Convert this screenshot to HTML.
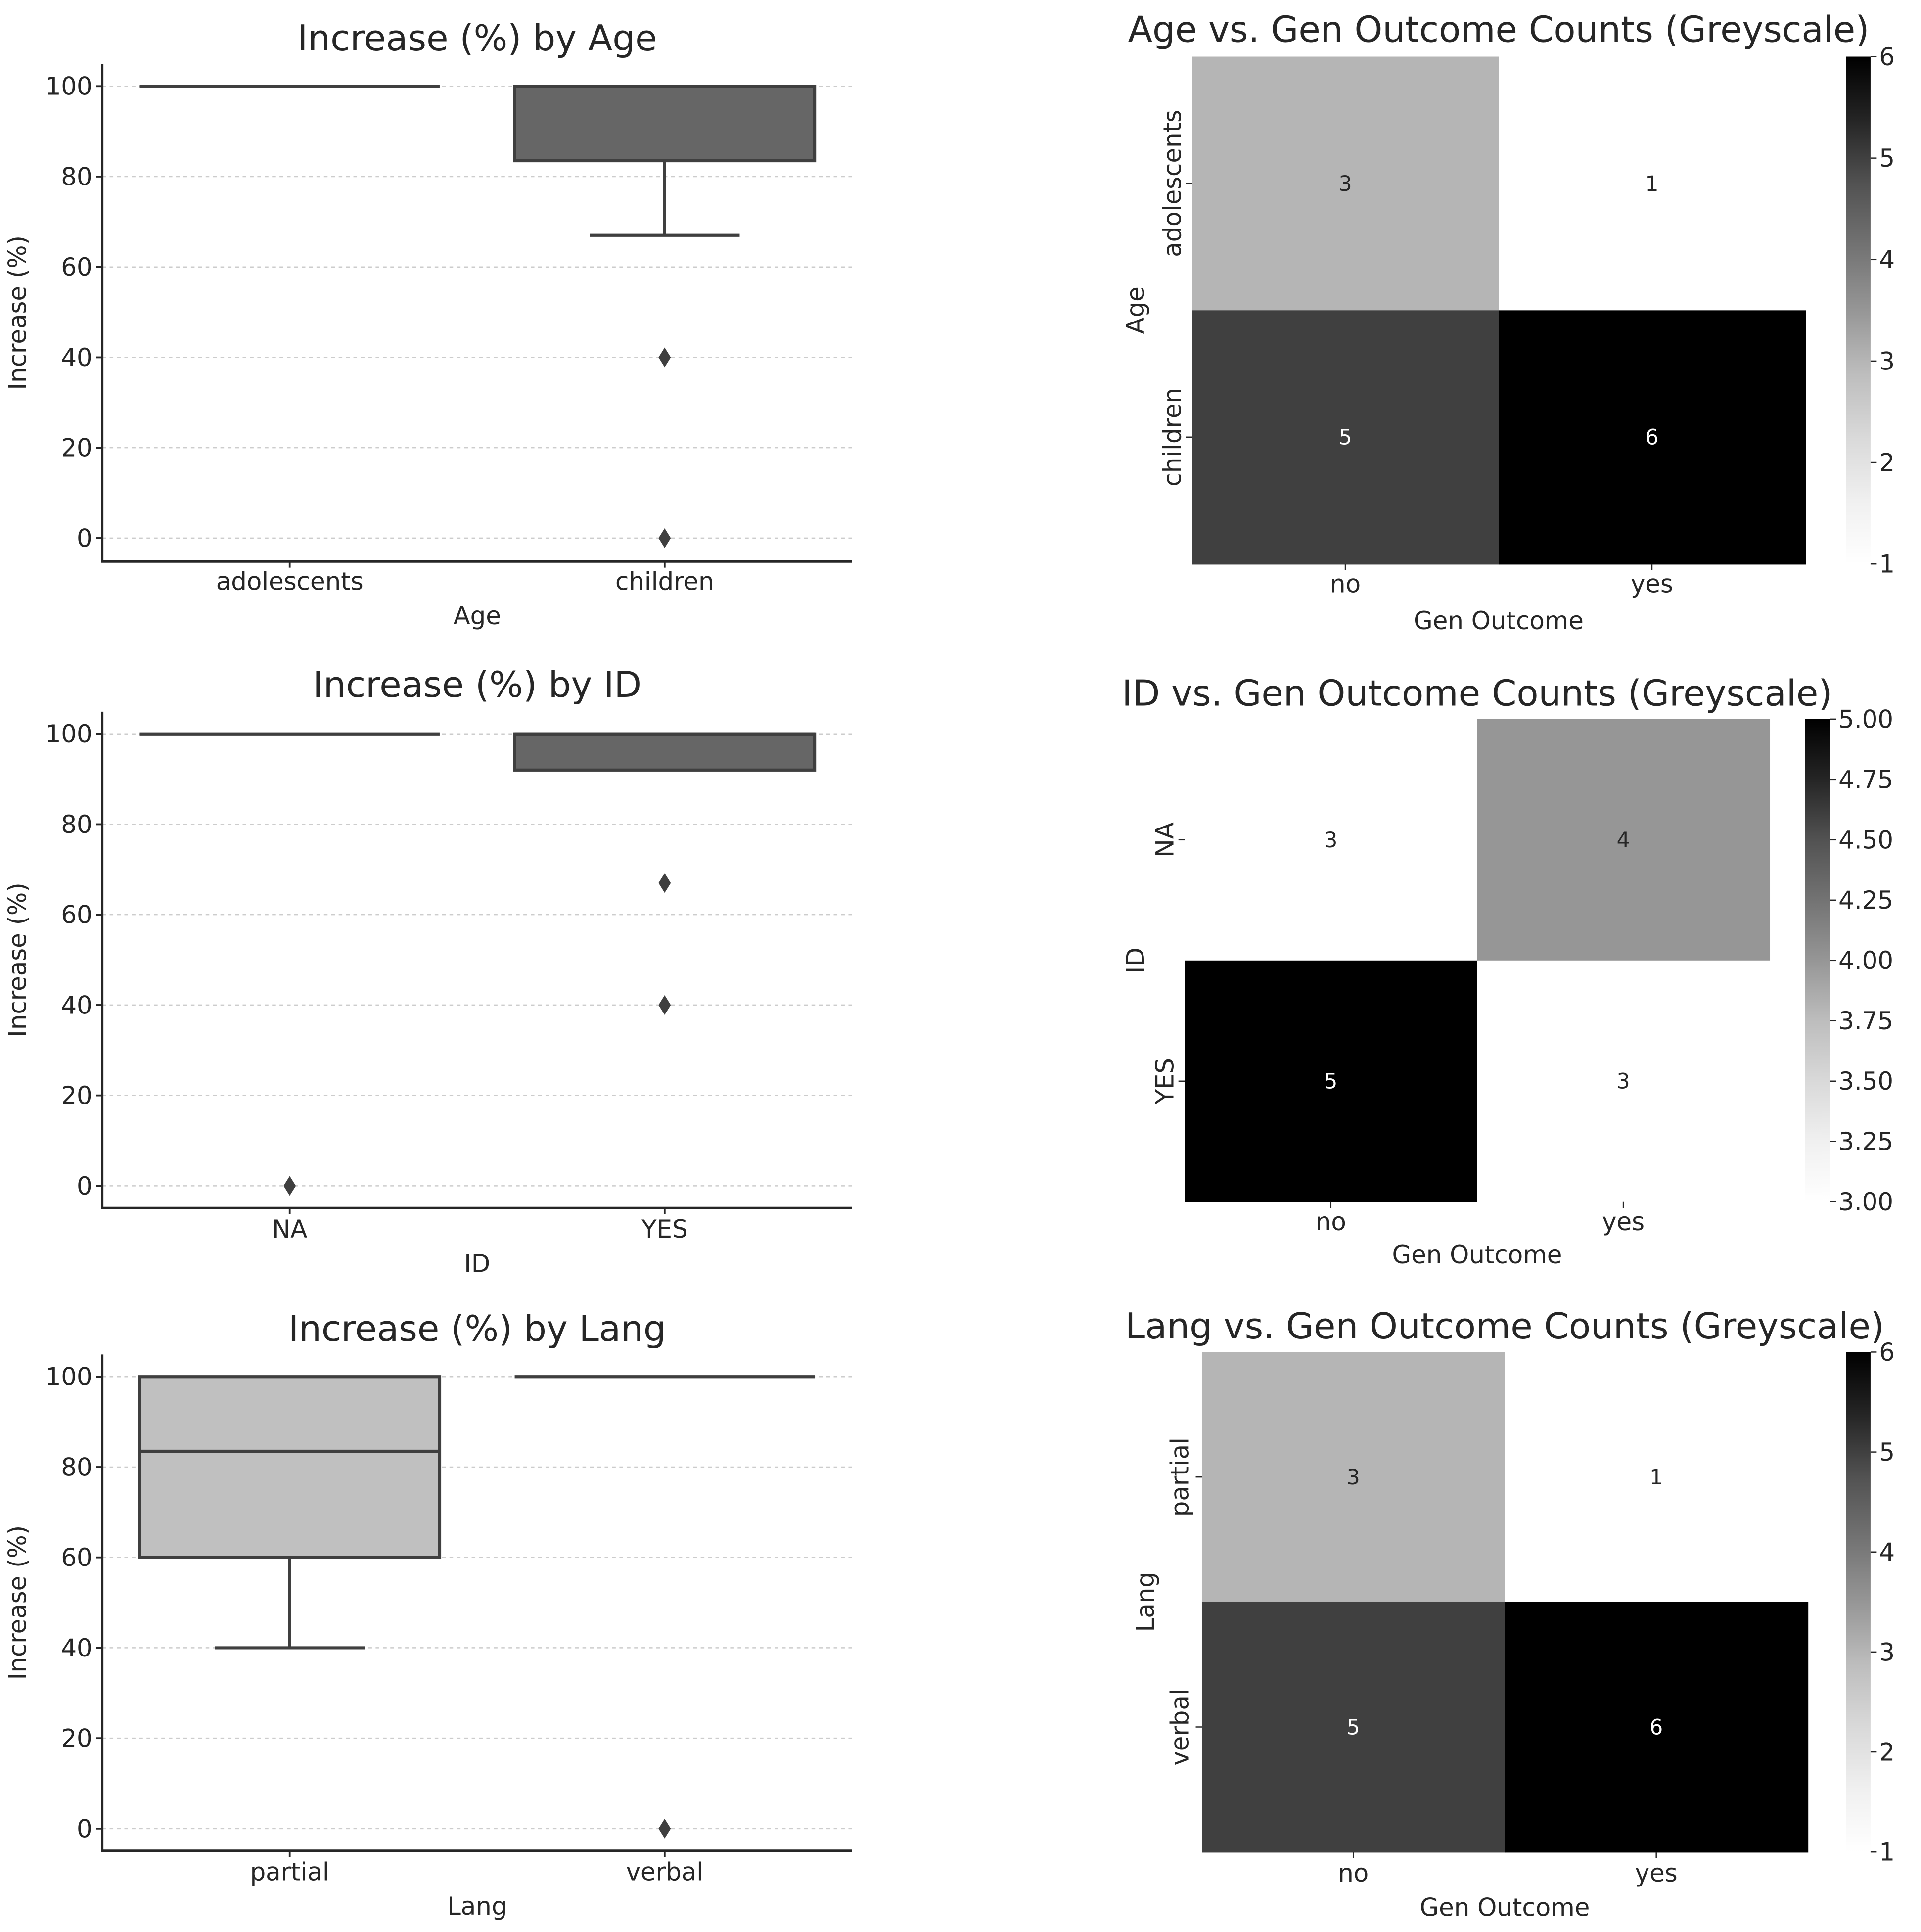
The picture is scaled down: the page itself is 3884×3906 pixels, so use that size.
<!DOCTYPE html>
<html><head><meta charset="utf-8"><style>
html,body{margin:0;padding:0;background:#fff}
svg{display:block}
text{font-family:"DejaVu Sans","Liberation Sans",sans-serif;fill:#262626}
</style></head><body>
<svg id="root" xmlns="http://www.w3.org/2000/svg" width="3884" height="3906" viewBox="0 0 1560 1569" preserveAspectRatio="none"></svg>
<script>
// ---- Box plot data ----
const boxTitles = ["Increase (%) by Age","Increase (%) by ID","Increase (%) by Lang"];
const boxXLabels = ["Age","ID","Lang"];
const boxCats = [["adolescents","children"],["NA","YES"],["partial","verbal"]];
// [q1, median, q3, whiskerLow, whiskerHigh] per category
const boxStatsAge = [[100,100,100,100,100],[83.5,100,100,67,100]];
const boxStatsID = [[100,100,100,100,100],[92,100,100,92,100]];
const boxStatsLang = [[60,83.5,100,40,100],[100,100,100,100,100]];
const outliersAge = [[],[40,0]];
const outliersID = [[0],[67,40]];
const outliersLang = [[],[0]];
const boxFills = ["#666666","#666666","#c0c0c0"];
const yTicks = [0,20,40,60,80,100];

// ---- Heatmap data ----
const hmTitles = ["Age vs. Gen Outcome Counts (Greyscale)","ID vs. Gen Outcome Counts (Greyscale)","Lang vs. Gen Outcome Counts (Greyscale)"];
const hmYLabels = ["Age","ID","Lang"];
const hmRows = [["adolescents","children"],["NA","YES"],["partial","verbal"]];
const hmCols = ["no","yes"];
const hmAge = [[3,1],[5,6]];
const hmID = [[3,4],[5,3]];
const hmLang = [[3,1],[5,6]];
const cbTicksAge = ["1","2","3","4","5","6"];
const cbTicksID = ["3.00","3.25","3.50","3.75","4.00","4.25","4.50","4.75","5.00"];
const cbTicksLang = ["1","2","3","4","5","6"];

const NS="http://www.w3.org/2000/svg";
const root=document.getElementById('root');
function mk(tag,attrs,parent,txt){const e=document.createElementNS(NS,tag);for(const k in attrs)e.setAttribute(k,attrs[k]);if(txt!==undefined)e.textContent=txt;(parent||root).appendChild(e);return e;}

const FT=29, FL=20;
const boxLayout=[{l:83,r:692,t:52,b:456,y100:70,y0:437,title:31,xt:471,xl:499},
 {l:83,r:692,t:578,b:981,y100:596,y0:963,title:556,xt:997,xl:1025},
 {l:83,r:692,t:1100,b:1503,y100:1118,y0:1485,title:1079,xt:1519,xl:1547}];
const allStats=[boxStatsAge,boxStatsID,boxStatsLang];
const allOut=[outliersAge,outliersID,outliersLang];

boxLayout.forEach((L,i)=>{
  const g=mk('g',{});
  
  
  const ys=v=>L.y0+(L.y100-L.y0)*v/100;
  const n=boxCats[i].length, band=(L.r-L.l)/n;
  const xs=k=>L.l+band*(k+0.5);
  yTicks.forEach(t=>{
    const gl=mk('line',{x1:L.l,x2:L.r,y1:ys(t),y2:ys(t),stroke:'#cccccc','stroke-width':1,'stroke-dasharray':'3,3'},g);
     
    const tk=mk('line',{x1:L.l-5,x2:L.l,y1:ys(t),y2:ys(t),stroke:'#262626','stroke-width':1.5},g);
     
    const tl=mk('text',{x:L.l-8,y:ys(t)+7,'text-anchor':'end','font-size':FL},g,String(t));
     
  });
  const yl=mk('text',{x:21,y:(L.t+L.b)/2,'text-anchor':'middle','font-size':FL,transform:`rotate(-90 21 ${(L.t+L.b)/2})`},g,'Increase (%)');
   
  allStats[i].forEach((s,k)=>{
    const cx=xs(k), w=band*0.8;
    const [q1,med,q3,wl,wh]=s;
    if(q3>q1){
      const r=mk('rect',{x:cx-w/2,y:ys(q3),width:w,height:ys(q1)-ys(q3),fill:boxFills[i],stroke:'#3f3f3f','stroke-width':2.5},g);
       
    }
    const m=mk('line',{x1:cx-w/2,x2:cx+w/2,y1:ys(med),y2:ys(med),stroke:'#3f3f3f','stroke-width':2.5},g);
     
    if(wl<q1){
      const wline=mk('line',{x1:cx,x2:cx,y1:ys(q1),y2:ys(wl),stroke:'#3f3f3f','stroke-width':2.5},g);
       
      const cap=mk('line',{x1:cx-w/4,x2:cx+w/4,y1:ys(wl),y2:ys(wl),stroke:'#3f3f3f','stroke-width':2.5},g);
       
    }
    if(wh>q3){
      const wline=mk('line',{x1:cx,x2:cx,y1:ys(q3),y2:ys(wh),stroke:'#3f3f3f','stroke-width':2.5},g);
       
    }
    allOut[i][k].forEach(o=>{
      const y=ys(o);
      const d=mk('polygon',{points:`${cx},${y-8} ${cx+5},${y} ${cx},${y+8} ${cx-5},${y}`,fill:'#3f3f3f'},g);
       
    });
    const tk=mk('line',{x1:cx,x2:cx,y1:L.b,y2:L.b+5,stroke:'#262626','stroke-width':1.5},g);
     
    const xl=mk('text',{x:cx,y:L.xt+8,'text-anchor':'middle','font-size':FL},g,boxCats[i][k]);
     
  });
  const ax=mk('path',{d:`M${L.l},${L.t} V${L.b} H${L.r}`,fill:'none',stroke:'#262626','stroke-width':2},g);
   
  const xt=mk('text',{x:(L.l+L.r)/2,y:L.xl+8,'text-anchor':'middle','font-size':FL},g,boxXLabels[i]);
   
  const tt=mk('text',{x:(L.l+L.r)/2,y:L.title+10,'text-anchor':'middle','font-size':FT},g,boxTitles[i]);
   
});

const greys=[[255],[240],[217],[189],[150],[115],[82],[37],[0]];
function grey(t){t=Math.max(0,Math.min(1,t));const p=t*8,i=Math.min(7,Math.floor(p)),f=p-i;const v=Math.round(greys[i][0]+(greys[i+1][0]-greys[i][0])*f);return [v,`rgb(${v},${v},${v})`];}

const hmLayout=[{l:968,r:1466,t:46,b:458,cbl:1499,title:24,xt:474,xl:503,yl:922,rl:952},
 {l:962,r:1437,t:584,b:976,cbl:1466,title:563,xt:992,xl:1018,yl:922,rl:946},
 {l:976,r:1468,t:1098,b:1504,cbl:1499,title:1077,xt:1521,xl:1548,yl:930,rl:958}];
const allHm=[hmAge,hmID,hmLang];
const allCb=[cbTicksAge,cbTicksID,cbTicksLang];

hmLayout.forEach((L,i)=>{
  const g=mk('g',{});
  
  
  const data=allHm[i];
  const flat=data.flat(), vmin=Math.min(...flat), vmax=Math.max(...flat);
  const nr=data.length,nc=hmCols.length;
  const cw=(L.r-L.l)/nc, ch=(L.b-L.t)/nr;
  const xs=c=>L.l+cw*c, ys=r=>L.t+ch*r;
  data.forEach((row,r)=>row.forEach((v,c)=>{
    const [lv,col]=grey((v-vmin)/(vmax-vmin));
    const rc=mk('rect',{x:xs(c),y:ys(r),width:cw+0.5,height:ch+0.5,fill:col},g);
     
    const tx=mk('text',{x:xs(c)+cw/2,y:ys(r)+ch/2+6,'text-anchor':'middle','font-size':17,style:'fill:'+(lv<130?'#ffffff':'#262626')},g,String(v));
     
  }));
  hmCols.forEach((c,k)=>{
    const cx=xs(k)+cw/2;
    const tk=mk('line',{x1:cx,x2:cx,y1:L.b,y2:L.b+5,stroke:'#262626','stroke-width':1},g);
     
    const t=mk('text',{x:cx,y:L.xt+7,'text-anchor':'middle','font-size':FL},g,c);
     
  });
  hmRows[i].forEach((rname,k)=>{
    const cy=ys(k)+ch/2;
    const tk=mk('line',{x1:L.l-5,x2:L.l,y1:cy,y2:cy,stroke:'#262626','stroke-width':1},g);
     
    const t=mk('text',{x:L.rl+7,y:cy,'text-anchor':'middle','font-size':FL,transform:`rotate(-90 ${L.rl+7} ${cy})`},g,rname);
     
  });
  const yl=mk('text',{x:L.yl+7,y:(L.t+L.b)/2,'text-anchor':'middle','font-size':FL,transform:`rotate(-90 ${L.yl+7} ${(L.t+L.b)/2})`},g,hmYLabels[i]);
   
  const xl=mk('text',{x:(L.l+L.r)/2,y:L.xl+8,'text-anchor':'middle','font-size':FL},g,'Gen Outcome');
   
  const tt=mk('text',{x:(L.l+L.r)/2,y:L.title+10,'text-anchor':'middle','font-size':FT},g,hmTitles[i]);
   
  const gid='cbg'+i;
  const defs=mk('defs',{},g);
  const lg=mk('linearGradient',{id:gid,x1:0,y1:1,x2:0,y2:0},defs);
  for(let s=0;s<=8;s++) mk('stop',{offset:s/8,'stop-color':grey(s/8)[1]},lg);
  const cb=mk('rect',{x:L.cbl,y:L.t,width:20,height:L.b-L.t,fill:`url(#${gid})`},g);
   
  const ticks=allCb[i];
  ticks.forEach(tv=>{
    const v=parseFloat(tv), y=L.b-(L.b-L.t)*(v-vmin)/(vmax-vmin);
    const tk=mk('line',{x1:L.cbl+20,x2:L.cbl+25,y1:y,y2:y,stroke:'#262626','stroke-width':1},g);
     
    const t=mk('text',{x:L.cbl+27,y:y+7,'font-size':FL},g,tv);
     
  });
});
</script>
</body></html>
